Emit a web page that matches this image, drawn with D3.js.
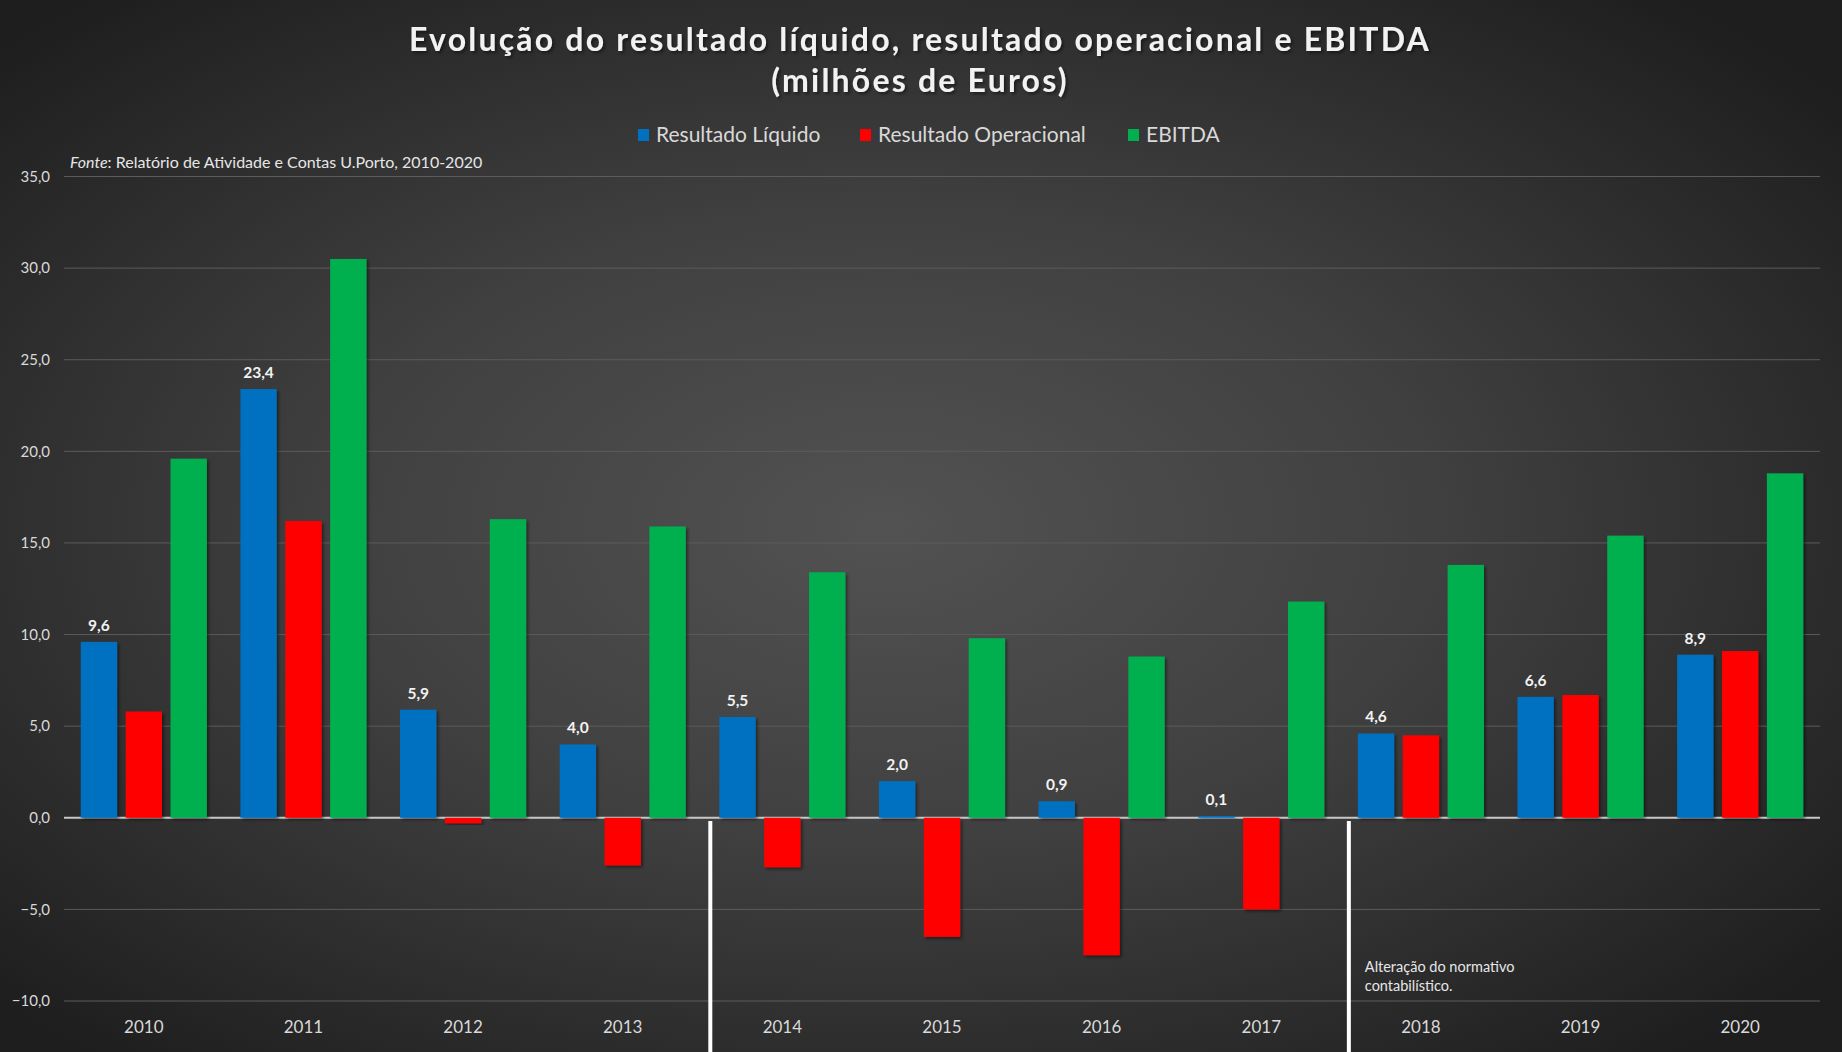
<!DOCTYPE html>
<html>
<head>
<meta charset="utf-8">
<script src="https://cdn.jsdelivr.net/npm/d3@7"></script>
<style>
  html, body { margin: 0; padding: 0; background: #2a2a2a; }
  svg { display: block; }
</style>
</head>
<body>
<svg></svg>
<script>
// categories and series
var years = ["2010", "2011", "2012", "2013", "2014", "2015", "2016", "2017", "2018", "2019", "2020"];
var seriesNames = ["Resultado Líquido", "Resultado Operacional", "EBITDA"];
var liquido = [9.6, 23.4, 5.9, 4.0, 5.5, 2.0, 0.9, 0.1, 4.6, 6.6, 8.9];
var operacional = [5.8, 16.2, -0.3, -2.6, -2.7, -6.5, -7.5, -5.0, 4.5, 6.7, 9.1];
var ebitda = [19.6, 30.5, 16.3, 15.9, 13.4, 9.8, 8.8, 11.8, 13.8, 15.4, 18.8];
var yTicks = [-10, -5, 0, 5, 10, 15, 20, 25, 30, 35];
var breakYears = ["2014", "2018"];

var width = 1842, height = 1052;
var colors = ["#0070c0", "#ff0000", "#00b050"];
var font = "Lato, 'Open Sans', sans-serif";

var svg = d3.select("svg")
    .attr("width", width)
    .attr("height", height);

// background radial gradient like the excel chart
var defs = svg.append("defs");
var grad = defs.append("radialGradient")
    .attr("id", "bg")
    .attr("cx", "48%").attr("cy", "50%").attr("r", "66%");
grad.append("stop").attr("offset", "0%").attr("stop-color", "#525252");
grad.append("stop").attr("offset", "45%").attr("stop-color", "#404040");
grad.append("stop").attr("offset", "100%").attr("stop-color", "#1e1e1e");

var shadow = defs.append("filter").attr("id", "shadow")
    .attr("x", "-20%").attr("y", "-20%").attr("width", "140%").attr("height", "140%");
shadow.append("feDropShadow")
    .attr("dx", 2).attr("dy", 2).attr("stdDeviation", 1.5)
    .attr("flood-color", "#000").attr("flood-opacity", 0.45);

svg.append("rect")
    .attr("width", width).attr("height", height)
    .attr("fill", "url(#bg)");

var left = 64, right = 1820;

var x = d3.scaleBand()
    .domain(years)
    .range([left, right])
    .paddingInner(0.21)
    .paddingOuter(0.105);

var x1 = d3.scaleBand()
    .domain(d3.range(3))
    .range([0, x.bandwidth()])
    .paddingInner(0.19);

var y = d3.scaleLinear()
    .domain([-10, 35])
    .range([1001, 176.5]);

// gridlines
svg.append("g")
    .selectAll("line")
    .data(yTicks)
    .enter()
    .append("line")
    .attr("x1", left).attr("x2", right)
    .attr("y1", function(d) { return y(d); })
    .attr("y2", function(d) { return y(d); })
    .attr("stroke", function(d) { return d === 0 ? "#c8c8c8" : "#5c5c5c"; })
    .attr("stroke-width", function(d) { return d === 0 ? 2 : 1; });

// y axis labels
var yAxis = svg.append("g")
    .attr("transform", "translate(" + (left - 14) + ",0)")
    .call(d3.axisLeft(y).tickValues(yTicks).tickSize(0)
        .tickFormat(function(d) { return d3.format(".1f")(d).replace(".", ","); }));
yAxis.select(".domain").remove();
yAxis.selectAll("text")
    .attr("x", 0)
    .attr("fill", "#d9d9d9")
    .style("font-family", font)
    .style("font-size", "15px");

// x axis labels
var xAxis = svg.append("g")
    .attr("transform", "translate(0,1018)")
    .call(d3.axisBottom(x).tickSize(0));
xAxis.select(".domain").remove();
xAxis.selectAll("text")
    .attr("fill", "#d9d9d9")
    .style("font-family", font)
    .style("font-size", "17px");

// bars
var table = years.map(function(yr, i) {
    return { year: yr, values: [liquido[i], operacional[i], ebitda[i]] };
});

var groups = svg.append("g")
    .selectAll("g")
    .data(table)
    .enter()
    .append("g")
    .attr("transform", function(d) { return "translate(" + x(d.year) + ",0)"; });

groups.selectAll("rect")
    .data(function(d) { return d.values.map(function(v, k) { return { k: k, v: v }; }); })
    .enter()
    .append("rect")
    .attr("x", function(d) { return x1(d.k); })
    .attr("width", x1.bandwidth())
    .attr("y", function(d) { return y(Math.max(0, d.v)); })
    .attr("height", function(d) { return Math.abs(y(d.v) - y(0)); })
    .attr("fill", function(d) { return colors[d.k]; })
    .attr("filter", "url(#shadow)");

// labels above Resultado Líquido
groups.append("text")
    .attr("x", x1(0) + x1.bandwidth() / 2)
    .attr("y", function(d) { return y(d.values[0]) - 11; })
    .attr("text-anchor", "middle")
    .attr("fill", "#f2f2f2")
    .style("font-family", font)
    .style("font-weight", "bold")
    .style("font-size", "15.5px")
    .text(function(d) { return d3.format(".1f")(d.values[0]).replace(".", ","); });

// white separators for the accounting change
svg.append("g")
    .selectAll("line")
    .data(breakYears)
    .enter()
    .append("line")
    .attr("x1", function(d) { return x(d) - 9; })
    .attr("x2", function(d) { return x(d) - 9; })
    .attr("y1", 821).attr("y2", height)
    .attr("stroke", "#ffffff")
    .attr("stroke-width", 4);

var note = svg.append("text")
    .attr("x", x("2018") + 7)
    .attr("y", 972)
    .attr("fill", "#e6e6e6")
    .style("font-family", font)
    .style("font-size", "14.5px");
note.append("tspan").text("Alteração do normativo");
note.append("tspan").attr("x", x("2018") + 7).attr("dy", 19).text("contabilístico.");

// title
var title = svg.append("text")
    .attr("text-anchor", "middle")
    .attr("fill", "#f2f2f2")
    .style("font-family", font)
    .style("font-weight", "bold")
    .style("font-size", "32px")
    .style("letter-spacing", "2.2px")
    .attr("filter", "url(#shadow)");
title.append("tspan").attr("x", 920).attr("y", 51)
    .text("Evolução do resultado líquido, resultado operacional e EBITDA");
title.append("tspan").attr("x", 920).attr("y", 92)
    .text("(milhões de Euros)");

// legend
var legendX = [638, 860, 1128];
var legend = svg.append("g")
    .selectAll("g")
    .data(seriesNames)
    .enter()
    .append("g")
    .attr("transform", function(d, i) { return "translate(" + legendX[i] + ",135)"; });
legend.append("rect")
    .attr("x", 0).attr("y", -6)
    .attr("width", 11).attr("height", 12)
    .attr("fill", function(d, i) { return colors[i]; });
legend.append("text")
    .attr("x", 18).attr("y", 7)
    .attr("fill", "#d9d9d9")
    .style("font-family", font)
    .style("font-size", "21px")
    .text(function(d) { return d; });

// source
var fonte = svg.append("text")
    .attr("x", 70).attr("y", 168)
    .attr("fill", "#e6e6e6")
    .style("font-family", font)
    .style("font-size", "16px");
fonte.append("tspan").style("font-style", "italic").text("Fonte");
fonte.append("tspan").text(": Relatório de Atividade e Contas U.Porto, 2010-2020");
</script>
</body>
</html>
